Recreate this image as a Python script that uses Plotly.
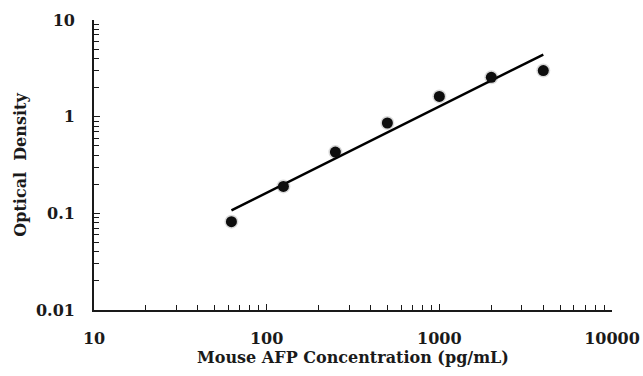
import numpy as np
import plotly.graph_objects as go

# Data
concentration = [62.5, 125, 250, 500, 1000, 2000, 4000]
optical_density = [0.082, 0.19, 0.43, 0.86, 1.62, 2.55, 3.0]

x_tickvals = [10, 100, 1000, 10000]
x_ticktext = ["10", "100", "1000", "10000"]
y_tickvals = [0.01, 0.1, 1, 10]
y_ticktext = ["0.01", "0.1", "1", "10"]

x_minor = [m * d for d in (10, 100, 1000) for m in range(2, 10)]
y_minor = [m * d for d in (0.01, 0.1, 1) for m in range(2, 10)]

# Power (log-log) trend line fitted to the data
lx = np.log10(concentration)
ly = np.log10(optical_density)
slope, intercept = np.polyfit(lx, ly, 1)
fit_x = np.array([concentration[0], concentration[-1]])
fit_y = 10 ** (intercept + slope * np.log10(fit_x))

font = "DejaVu Serif"
ink = "#1a1a1a"

fig = go.Figure()
# soft halo for blurred look
fig.add_trace(go.Scatter(
    x=concentration, y=optical_density, mode="markers",
    marker=dict(size=14, color="rgba(0,0,0,0.15)", line=dict(width=0)),
    hoverinfo="skip", showlegend=False))
fig.add_trace(go.Scatter(
    x=fit_x, y=fit_y, mode="lines",
    line=dict(color="#000000", width=2.5), showlegend=False))
fig.add_trace(go.Scatter(
    x=concentration, y=optical_density, mode="markers",
    marker=dict(size=11, color="#0d0d0d", line=dict(width=0)),
    showlegend=False))

tick_font = dict(family=font, size=16, color=ink, weight="bold")
title_font = dict(family=font, size=16, color=ink, weight="bold")

axis_common = dict(
    showline=True, linecolor=ink, linewidth=1.8,
    showgrid=False, zeroline=False,
    ticks="inside", ticklen=6, tickwidth=1, tickcolor=ink,
    tickfont=tick_font,
    mirror=False, automargin=False,
)

fig.update_layout(
    width=643, height=376,
    margin=dict(l=94, r=31, t=20, b=66),
    paper_bgcolor="white", plot_bgcolor="white",
    xaxis=dict(
        type="log", range=[1, 4],
        tickvals=x_tickvals, ticktext=x_ticktext,
        minor=dict(tickvals=x_minor, ticks="inside", ticklen=5,
                   tickcolor=ink, showgrid=False),
        ticklabelstandoff=13,
        title=dict(text="Mouse AFP Concentration (pg/mL)",
                   font=title_font, standoff=2),
        **axis_common,
    ),
    yaxis=dict(
        type="log", range=[-2, 1],
        tickvals=y_tickvals, ticktext=y_ticktext,
        minor=dict(tickvals=y_minor, ticks="inside", ticklen=5,
                   tickcolor=ink, showgrid=False),
        ticklabelstandoff=14,
        title=dict(text="Optical  Density", font=title_font, standoff=5),
        **axis_common,
    ),
)

fig.write_html("out.html")
